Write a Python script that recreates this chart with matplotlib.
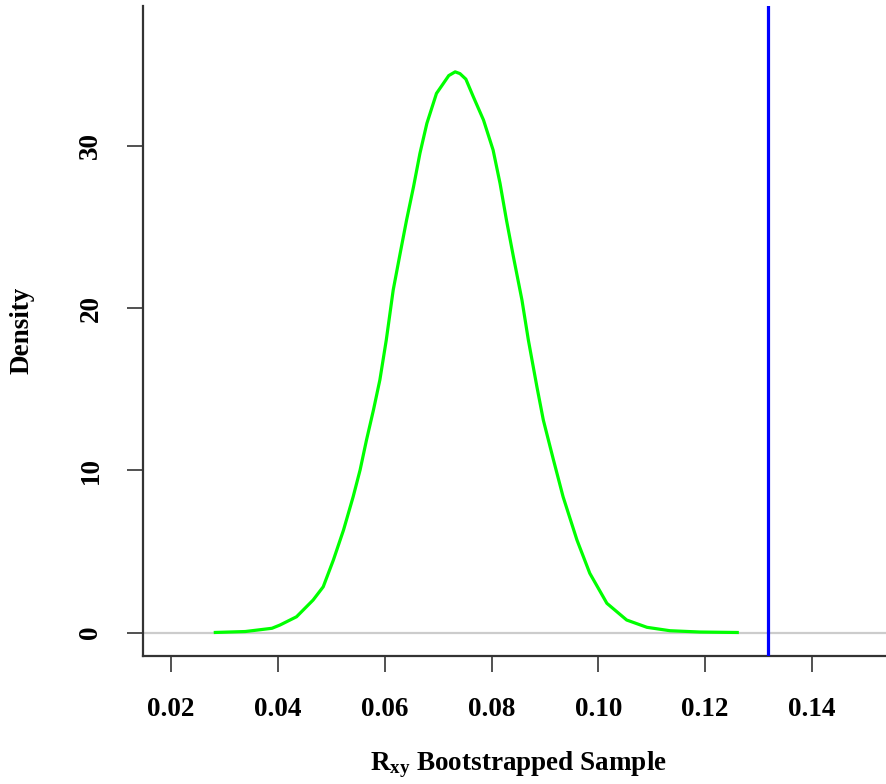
import numpy as np
import matplotlib
matplotlib.use("Agg")
import matplotlib.pyplot as plt

plt.rcParams['font.family'] = ['Liberation Serif', 'DejaVu Serif']
plt.rcParams['font.weight'] = 'bold'
plt.rcParams['mathtext.fontset'] = 'custom'
plt.rcParams['mathtext.rm'] = 'Liberation Serif:bold'
plt.rcParams['mathtext.bf'] = 'Liberation Serif:bold'
plt.rcParams['mathtext.it'] = 'Liberation Serif:bold'

# Kernel density estimate of the bootstrapped R_xy values
density_x = [0.0280, 0.0339, 0.0389, 0.0404, 0.0435, 0.0466, 0.0485, 0.0504,
             0.0523, 0.0541, 0.0554, 0.0566, 0.0579, 0.0591, 0.0603, 0.0616,
             0.0629, 0.0641, 0.0654, 0.0666, 0.0679, 0.0697, 0.0710, 0.0720,
             0.0732, 0.0741, 0.0752, 0.0766, 0.0785, 0.0803, 0.0816, 0.0828,
             0.0841, 0.0857, 0.0869, 0.0885, 0.0897, 0.0916, 0.0934, 0.0960,
             0.0984, 0.1016, 0.1053, 0.1091, 0.1134, 0.1190, 0.1263]
density_y = [0.00, 0.06, 0.26, 0.46, 0.97, 2.00, 2.82, 4.47,
             6.32, 8.37, 10.02, 11.87, 13.72, 15.57, 18.03, 21.12,
             23.38, 25.43, 27.48, 29.54, 31.39, 33.24, 33.86, 34.34,
             34.57, 34.46, 34.12, 33.03, 31.60, 29.75, 27.69, 25.43,
             23.17, 20.50, 18.03, 15.15, 13.10, 10.64, 8.37, 5.70,
             3.65, 1.80, 0.77, 0.32, 0.11, 0.03, 0.00]

# Observed statistic
observed_rxy = 0.1318

x_ticks = [0.02, 0.04, 0.06, 0.08, 0.10, 0.12, 0.14]
x_tick_labels = ["0.02", "0.04", "0.06", "0.08", "0.10", "0.12", "0.14"]
y_ticks = [0, 10, 20, 30]
y_tick_labels = ["0", "10", "20", "30"]

W, H = 886, 784
fig = plt.figure(figsize=(W / 100, H / 100), dpi=100)
left_px, right_px, top_px, bottom_px = 143, 886, 6, 656
ax = fig.add_axes([left_px / W, 1 - bottom_px / H,
                   (right_px - left_px) / W, (bottom_px - top_px) / H])

ax.set_xlim(0.01476, 0.15385)
ax.set_ylim(-1.449, 38.63)

ax.axhline(0, color='#cccccc', lw=1.6, zorder=1)
ax.plot(density_x, density_y, color='#00ff00', lw=2.3, zorder=3,
        solid_joinstyle='round', solid_capstyle='butt')
ax.axvline(observed_rxy, color='#0000ff', lw=2.3, zorder=4)

for s in ['top', 'right']:
    ax.spines[s].set_visible(False)
for s in ['left', 'bottom']:
    ax.spines[s].set_color('#333333')
    ax.spines[s].set_linewidth(1.6)

ax.set_xticks(x_ticks)
ax.set_xticklabels(x_tick_labels, fontsize=19.5, fontweight='bold')
ax.set_yticks(y_ticks)
ax.set_yticklabels(y_tick_labels, fontsize=19.5, fontweight='bold',
                   rotation=90, va='center')
ax.tick_params(axis='x', direction='out', length=11.5, width=1.2,
               color='#333333', pad=18)
ax.tick_params(axis='y', direction='out', length=11.5, width=1.2,
               color='#333333', pad=17)

fig.text(518 / W, 1 - 765 / H, r'$\mathbf{R}_{\mathbf{xy}}$ Bootstrapped Sample',
         ha='center', va='center', fontsize=19.5, fontweight='bold')
fig.text(22 / W, 1 - 330 / H, 'Density', rotation=90, ha='center',
         va='center', fontsize=19.5, fontweight='bold')

fig.savefig('out.png', dpi=100, facecolor='white')
